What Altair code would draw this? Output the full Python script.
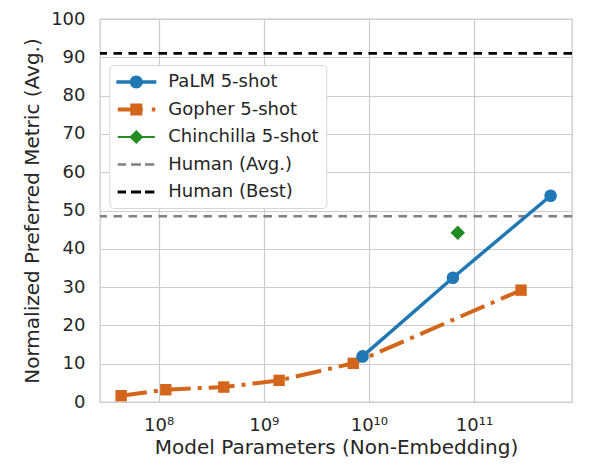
import altair as alt
import pandas as pd

# ---- data ----
palm_params = [8.7e9, 6.3e10, 5.35e11]
palm_scores = [11.9, 32.45, 53.85]
gopher_params = [4.4e7, 1.17e8, 4.17e8, 1.4e9, 7.1e9, 2.8e11]
gopher_scores = [1.65, 3.2, 3.9, 5.65, 10.1, 29.2]
chinchilla_params = [7.0e10]
chinchilla_scores = [44.2]
human_avg = [48.5]
human_best = [91.0]

series_names = ["PaLM 5-shot", "Gopher 5-shot", "Chinchilla 5-shot", "Human (Avg.)", "Human (Best)"]
series_colors = ["#1f77b4", "#d4661c", "#228b22", "#808080", "#000000"]

x_domain = [2.77e7, 8.55e11]
x_tick_values = [1e8, 1e9, 1e10, 1e11]
x_tick_labels = ["10⁸", "10⁹", "10¹⁰", "10¹¹"]
y_tick_values = [0, 10, 20, 30, 40, 50, 60, 70, 80, 90, 100]

# legend handle glyphs (line + marker), custom SVG paths
legend_paths = [
    "M-2,-0.175H2V0.175H-2Z M-0.65,0A0.65,0.65 0 1,1 0.65,0A0.65,0.65 0 1,1 -0.65,0Z",
    "M-1.85,-0.2H0.65V0.2H-1.85Z M1.55,-0.2H1.9V0.2H1.55Z M-0.6,-0.6H0.6V0.6H-0.6Z",
    "M-1.85,-0.1H1.85V0.1H-1.85Z M0,-0.7L0.7,0L0,0.7L-0.7,0Z",
    "M-1.86,-0.13H-1.03V0.13H-1.86Z M-0.53,-0.13H0.47V0.13H-0.53Z M0.87,-0.13H1.8V0.13H0.87Z",
    "M-1.86,-0.15H-1.03V0.15H-1.86Z M-0.53,-0.15H0.47V0.15H-0.53Z M0.87,-0.15H1.8V0.15H0.87Z",
]

palm_df = pd.DataFrame({"params": palm_params, "score": palm_scores})
gopher_df = pd.DataFrame({"params": gopher_params, "score": gopher_scores})
chin_df = pd.DataFrame({"params": chinchilla_params, "score": chinchilla_scores})
havg_df = pd.DataFrame({"score": human_avg})
hbest_df = pd.DataFrame({"score": human_best})
legend_df = pd.DataFrame({"series": series_names})

label_expr = " : ".join(
    f"datum.value == {v:g} ? '{l}'" for v, l in zip(x_tick_values[:-1], x_tick_labels[:-1])
) + f" : '{x_tick_labels[-1]}'"

X = alt.X(
    "params:Q",
    scale=alt.Scale(type="log", domain=x_domain, nice=False),
    axis=alt.Axis(values=x_tick_values, labelExpr=label_expr,
                  title="Model Parameters (Non-Embedding)"),
)
Y = alt.Y(
    "score:Q",
    scale=alt.Scale(domain=[0, 100], nice=False, zero=False),
    axis=alt.Axis(values=y_tick_values, title="Normalized Preferred Metric (Avg.)"),
)

havg = alt.Chart(havg_df).mark_rule(color=series_colors[3], strokeWidth=2.6,
                                    strokeDash=[8.5, 6.5]).encode(y=Y)
hbest = alt.Chart(hbest_df).mark_rule(color=series_colors[4], strokeWidth=2.8,
                                      strokeDash=[8.5, 6.5]).encode(y=Y)

gopher_line = alt.Chart(gopher_df).mark_line(color=series_colors[1], strokeWidth=4,
                                             strokeDash=[26, 7, 4, 7]).encode(x=X, y=Y)
gopher_pts = alt.Chart(gopher_df).mark_point(shape="square", filled=True, size=130, opacity=1,
                                             color=series_colors[1]).encode(x=X, y=Y)
palm_line = alt.Chart(palm_df).mark_line(color=series_colors[0], strokeWidth=3.5).encode(x=X, y=Y)
palm_pts = alt.Chart(palm_df).mark_point(shape="circle", filled=True, size=160, opacity=1,
                                         color=series_colors[0]).encode(x=X, y=Y)
chin_pts = alt.Chart(chin_df).mark_point(shape="diamond", filled=True, size=210, opacity=1,
                                         color=series_colors[2]).encode(x=X, y=Y)

leg = alt.Legend(
    title=None, orient="none", legendX=9.3, legendY=46,
    padding=7, rowPadding=8.5, symbolSize=400, symbolStrokeWidth=0, symbolOpacity=1,
    symbolOffset=10, labelOffset=22, labelFontSize=18, labelFont="DejaVu Sans",
    labelColor="#262626", fillColor="white", strokeColor="#d6d6d6", cornerRadius=4,
    labelExpr="datum.label + '\u00a0\u2009\u2009'", labelLimit=0,
)
legend_layer = alt.Chart(legend_df).mark_point(filled=True, opacity=0, size=400).encode(
    color=alt.Color("series:N", scale=alt.Scale(domain=series_names, range=series_colors), legend=leg),
    shape=alt.Shape("series:N", scale=alt.Scale(domain=series_names, range=legend_paths), legend=leg),
)

chart = alt.layer(
    havg, hbest, gopher_line, gopher_pts, palm_line, palm_pts, chin_pts, legend_layer
).properties(
    width=472, height=383,
    autosize=alt.AutoSizeParams(type="none"),
    padding={"left": 92, "top": 11, "right": 20, "bottom": 56},
    background="white",
).configure_axis(
    labelFont="DejaVu Sans", titleFont="DejaVu Sans",
    labelFontSize=18, titleFontSize=20, titleFontWeight="normal",
    labelColor="#262626", titleColor="#262626",
    gridColor="#cccccc", gridWidth=1.2, domain=False, ticks=False, tickSize=0,
).configure_axisX(
    labelPadding=14, titlePadding=3,
).configure_axisY(
    labelPadding=15, titlePadding=8,
).configure_view(
    stroke="#cccccc", strokeWidth=1.3,
)

chart.save("out.html", embed_options={"renderer": "svg", "actions": False})
